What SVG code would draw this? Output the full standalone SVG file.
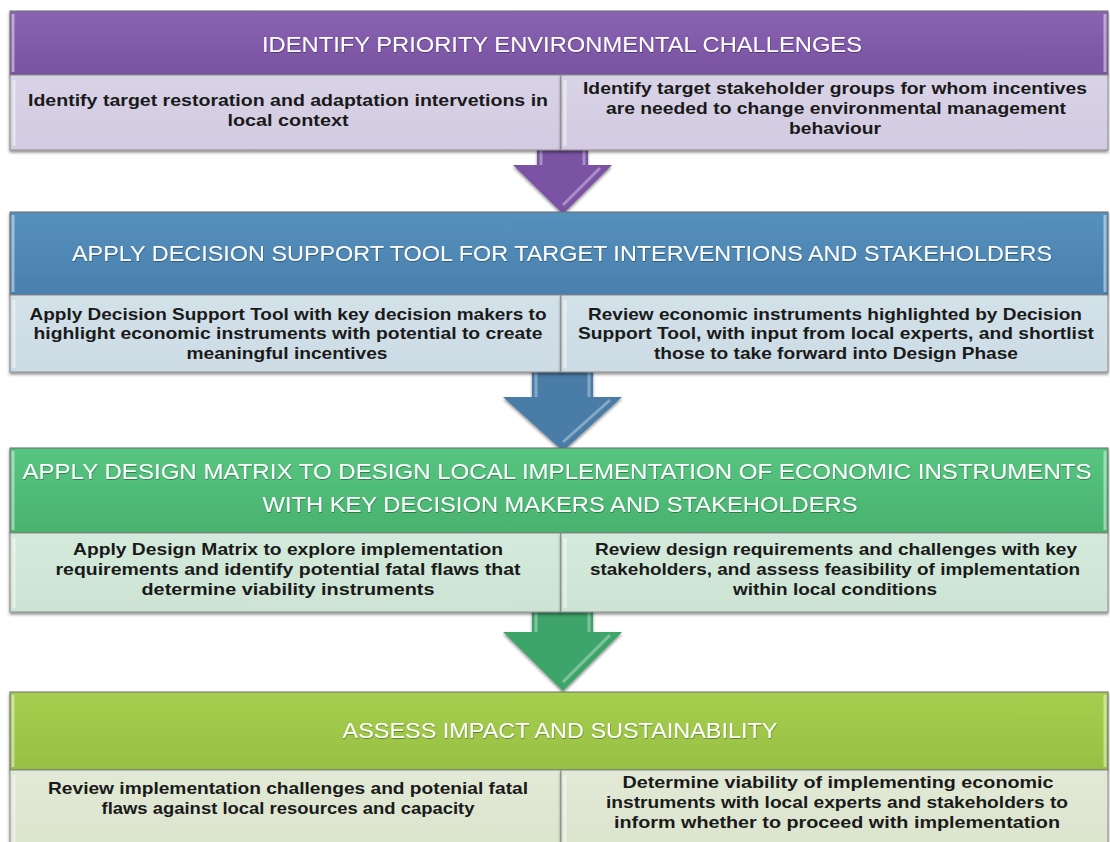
<svg xmlns="http://www.w3.org/2000/svg" width="1110" height="842" viewBox="0 0 1110 842">
<defs>
<filter id="sh" x="-5%" y="-10%" width="110%" height="130%"><feDropShadow dx="0" dy="2" stdDeviation="1.5" flood-color="#000" flood-opacity="0.45"/></filter>
<filter id="ts" x="-5%" y="-20%" width="110%" height="140%"><feDropShadow dx="0.5" dy="1" stdDeviation="0.6" flood-color="#000" flood-opacity="0.35"/></filter>
<linearGradient id="gP" x1="0" y1="0" x2="0" y2="1"><stop offset="0" stop-color="#8a63b2"/><stop offset="1" stop-color="#7853a2"/></linearGradient>
<linearGradient id="gB" x1="0" y1="0" x2="0" y2="1"><stop offset="0" stop-color="#5590bd"/><stop offset="1" stop-color="#4a80ad"/></linearGradient>
<linearGradient id="gG" x1="0" y1="0" x2="0" y2="1"><stop offset="0" stop-color="#56c580"/><stop offset="1" stop-color="#49b26f"/></linearGradient>
<linearGradient id="gY" x1="0" y1="0" x2="0" y2="1"><stop offset="0" stop-color="#a6cf50"/><stop offset="1" stop-color="#97c043"/></linearGradient>
<linearGradient id="sP" x1="0" y1="0" x2="0" y2="1"><stop offset="0" stop-color="#d9d3e7"/><stop offset="1" stop-color="#d2cbe1"/></linearGradient>
<linearGradient id="sB" x1="0" y1="0" x2="0" y2="1"><stop offset="0" stop-color="#d3e1e9"/><stop offset="1" stop-color="#ccdbe4"/></linearGradient>
<linearGradient id="sG" x1="0" y1="0" x2="0" y2="1"><stop offset="0" stop-color="#d4eadb"/><stop offset="1" stop-color="#cde4d4"/></linearGradient>
<linearGradient id="sY" x1="0" y1="0" x2="0" y2="1"><stop offset="0" stop-color="#e2e9d6"/><stop offset="1" stop-color="#dbe4cd"/></linearGradient>
</defs>
<style>
.hd{stroke:#6d6d6d;stroke-width:1;filter:url(#sh)}
.sb{stroke:#8a8a8a;stroke-width:1;filter:url(#sh)}
.hl{stroke:#ffffff;stroke-opacity:0.45;stroke-width:3}
.ht{font-family:"Liberation Sans",Arial,sans-serif;font-size:22px;fill:#ffffff;text-anchor:middle;filter:url(#ts)}
.st{font-family:"Liberation Sans",Arial,sans-serif;font-size:16.5px;font-weight:bold;fill:#1a1a1a;text-anchor:middle}
.ar{stroke:none;filter:url(#sh)}
.ahl{fill:none;stroke:#ffffff;stroke-opacity:0.35;stroke-width:3}
</style>
<g id="connectors">
<g id="arrow1">
<path class="ar" fill="#7a52a5" d="M537,148 L588,148 L588,165 L612,165 L563,214 L513,165 L537,165 Z"/>
<path class="ahl" d="M541,150 V165 M584,150 V165 M563,205 L600,168"/>
</g>
<g id="arrow2">
<path class="ar" fill="#4a7ba6" d="M532,370 L593,370 L593,397 L622,397 L563,451 L503,397 L532,397 Z"/>
<path class="ahl" d="M536,372 V397 M589,372 V397 M563,442 L610,400"/>
</g>
<g id="arrow3">
<path class="ar" fill="#3ea46b" d="M532,610 L593,610 L593,632 L622,632 L563,691 L503,632 L532,632 Z"/>
<path class="ahl" d="M536,612 V632 M589,612 V632 M563,682 L610,635"/>
</g>
</g>
<g id="stage1">
<rect class="hd" x="10" y="11" width="1098" height="64" fill="url(#gP)"/>
<path class="hl" d="M13,14 V72 M1105,14 V72"/>
<text class="ht" x="562" y="52" textLength="600" lengthAdjust="spacingAndGlyphs">IDENTIFY PRIORITY ENVIRONMENTAL CHALLENGES</text>
</g>
<g id="stage1-left">
<rect class="sb" x="10" y="75" width="551" height="75" fill="url(#sP)"/>
<path class="hl" d="M14,80 V146"/>
<text class="st" x="288" y="106" textLength="520" lengthAdjust="spacingAndGlyphs">Identify target restoration and adaptation  intervetions in</text>
<text class="st" x="288" y="126" textLength="121" lengthAdjust="spacingAndGlyphs">local  context</text>
</g>
<g id="stage1-right">
<rect class="sb" x="561" y="75" width="547" height="75" fill="url(#sP)"/>
<path class="hl" d="M565,80 V146"/>
<text class="st" x="835" y="94" textLength="504" lengthAdjust="spacingAndGlyphs">Identify target stakeholder groups for whom incentives</text>
<text class="st" x="836" y="114" textLength="460" lengthAdjust="spacingAndGlyphs">are needed to change environmental  management</text>
<text class="st" x="835" y="134" textLength="92" lengthAdjust="spacingAndGlyphs">behaviour</text>
</g>
<g id="stage2">
<rect class="hd" x="10" y="212" width="1098" height="83" fill="url(#gB)"/>
<path class="hl" d="M13,215 V292 M1105,215 V292"/>
<text class="ht" x="562" y="261" textLength="980" lengthAdjust="spacingAndGlyphs">APPLY  DECISION SUPPORT TOOL FOR TARGET INTERVENTIONS AND STAKEHOLDERS</text>
</g>
<g id="stage2-left">
<rect class="sb" x="10" y="295" width="551" height="77" fill="url(#sB)"/>
<path class="hl" d="M14,300 V368"/>
<text class="st" x="288" y="320" textLength="517" lengthAdjust="spacingAndGlyphs">Apply  Decision Support Tool with key decision makers to</text>
<text class="st" x="288" y="339" textLength="509" lengthAdjust="spacingAndGlyphs">highlight  economic instruments with potential to create</text>
<text class="st" x="287" y="359" textLength="201" lengthAdjust="spacingAndGlyphs">meaningful  incentives</text>
</g>
<g id="stage2-right">
<rect class="sb" x="561" y="295" width="547" height="77" fill="url(#sB)"/>
<path class="hl" d="M565,300 V368"/>
<text class="st" x="835" y="320" textLength="494" lengthAdjust="spacingAndGlyphs">Review economic instruments highlighted  by Decision</text>
<text class="st" x="836" y="339" textLength="516" lengthAdjust="spacingAndGlyphs">Support Tool,  with input from local experts, and shortlist</text>
<text class="st" x="836" y="359" textLength="364" lengthAdjust="spacingAndGlyphs">those to take forward into Design Phase</text>
</g>
<g id="stage3">
<rect class="hd" x="10" y="448" width="1098" height="85" fill="url(#gG)"/>
<path class="hl" d="M13,451 V530 M1105,451 V530"/>
<text class="ht" x="557" y="479" textLength="1069" lengthAdjust="spacingAndGlyphs">APPLY  DESIGN MATRIX TO DESIGN LOCAL IMPLEMENTATION  OF ECONOMIC INSTRUMENTS</text>
<text class="ht" x="560" y="512" textLength="595" lengthAdjust="spacingAndGlyphs">WITH KEY DECISION MAKERS AND STAKEHOLDERS</text>
</g>
<g id="stage3-left">
<rect class="sb" x="10" y="533" width="551" height="79" fill="url(#sG)"/>
<path class="hl" d="M14,538 V608"/>
<text class="st" x="288" y="555" textLength="430" lengthAdjust="spacingAndGlyphs">Apply  Design Matrix  to explore implementation</text>
<text class="st" x="288" y="575" textLength="465" lengthAdjust="spacingAndGlyphs">requirements and identify potential fatal  flaws that</text>
<text class="st" x="288" y="595" textLength="293" lengthAdjust="spacingAndGlyphs">determine viability    instruments</text>
</g>
<g id="stage3-right">
<rect class="sb" x="561" y="533" width="547" height="79" fill="url(#sG)"/>
<path class="hl" d="M565,538 V608"/>
<text class="st" x="836" y="555" textLength="482" lengthAdjust="spacingAndGlyphs">Review design requirements and challenges with key</text>
<text class="st" x="835" y="575" textLength="490" lengthAdjust="spacingAndGlyphs">stakeholders, and assess feasibility of implementation</text>
<text class="st" x="835" y="595" textLength="204" lengthAdjust="spacingAndGlyphs">within local conditions</text>
</g>
<g id="stage4">
<rect class="hd" x="10" y="692" width="1098" height="78" fill="url(#gY)"/>
<path class="hl" d="M13,695 V767 M1105,695 V767"/>
<text class="ht" x="560" y="738" textLength="435" lengthAdjust="spacingAndGlyphs">ASSESS IMPACT  AND SUSTAINABILITY</text>
</g>
<g id="stage4-left">
<rect class="sb" x="10" y="770" width="551" height="80" fill="url(#sY)"/>
<path class="hl" d="M14,775 V842"/>
<text class="st" x="288" y="794" textLength="480" lengthAdjust="spacingAndGlyphs">Review implementation  challenges and potenial fatal</text>
<text class="st" x="288" y="814" textLength="373" lengthAdjust="spacingAndGlyphs">flaws against local resources and capacity</text>
</g>
<g id="stage4-right">
<rect class="sb" x="561" y="770" width="547" height="80" fill="url(#sY)"/>
<path class="hl" d="M565,775 V842"/>
<text class="st" x="838" y="788" textLength="431" lengthAdjust="spacingAndGlyphs">Determine viability  of implementing economic</text>
<text class="st" x="837" y="808" textLength="462" lengthAdjust="spacingAndGlyphs">instruments with local  experts and stakeholders to</text>
<text class="st" x="837" y="828" textLength="446" lengthAdjust="spacingAndGlyphs">inform whether to proceed with implementation</text>
</g>
</svg>
